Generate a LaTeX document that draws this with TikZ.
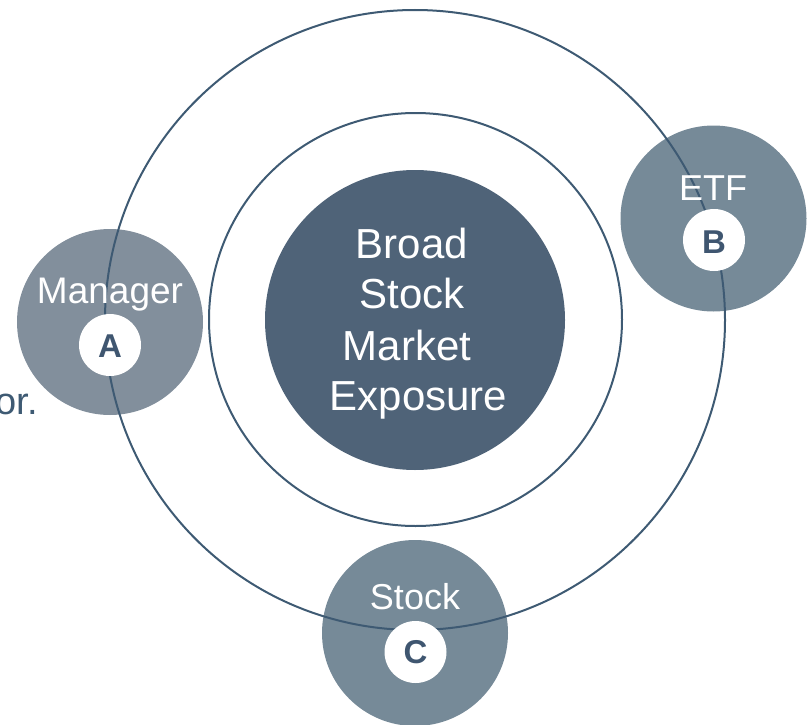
\documentclass[tikz,border=0pt]{standalone}
\usepackage{fontspec}
\setmainfont{Liberation Sans}
\definecolor{coreC}{HTML}{4F6378}
\definecolor{mgrC}{HTML}{828F9C}
\definecolor{satC}{HTML}{768A98}
\definecolor{ringC}{HTML}{3E5A73}
\definecolor{letC}{HTML}{3F5670}
\begin{document}
\begin{tikzpicture}[x=1pt,y=-1pt,
  disc/.style={circle,inner sep=0pt,outer sep=0pt,draw=none,minimum size=#1},
  ring/.style={circle,inner sep=0pt,outer sep=0pt,draw=ringC,line width=2pt,minimum size=#1},
  badge/.style={circle,inner sep=0pt,fill=white,minimum size=62pt},
  lab/.style={anchor=base,inner sep=0pt,text=white,font=\fontsize{36}{40}\selectfont},
  corelab/.style={anchor=base,inner sep=0pt,text=white,font=\fontsize{42}{48}\selectfont},
  letter/.style={anchor=base,inner sep=0pt,text=letC,font=\fontsize{33}{36}\selectfont\bfseries}]
\useasboundingbox (0,0) rectangle (811,725);
% satellite discs
\node[disc=186pt,fill=mgrC] (mgr) at (110,322) {};
\node[disc=186pt,fill=satC] (etf) at (713.5,218.5) {};
\node[disc=186pt,fill=satC] (stk) at (415,633) {};
% rings
\node[ring=620pt] (outer) at (415,320) {};
\node[ring=413pt] (inner) at (415.5,319.5) {};
% core
\node[disc=300pt,fill=coreC] (core) at (415,320) {};
\node[corelab] (l1) at (412,258) {Broad};
\node[corelab] (l2) at (412,308) {Stock};
\node[corelab] (l3) at (407,360) {Market};
\node[corelab] (l4) at (418.5,410) {Exposure};
% badges
\node[badge] (ba) at (110,345) {};
\node[badge] (bb) at (714,240) {};
\node[badge] (bc) at (415.5,652) {};
\node[letter] (la) at (110,357) {A};
\node[letter] (lb) at (714,253) {B};
\node[letter] (lc) at (415.5,663) {C};
% satellite labels
\node[lab,font=\fontsize{37}{40}\selectfont] (tm) at (110,303) {Manager};
\node[lab] (te) at (713,200) {ETF};
\node[lab] (ts) at (415,609) {Stock};
% cut-off text
\node[anchor=base east,inner sep=0pt,text=ringC,font=\fontsize{38}{40}\selectfont] (orr) at (38,414) {or.};
\end{tikzpicture}
\end{document}
